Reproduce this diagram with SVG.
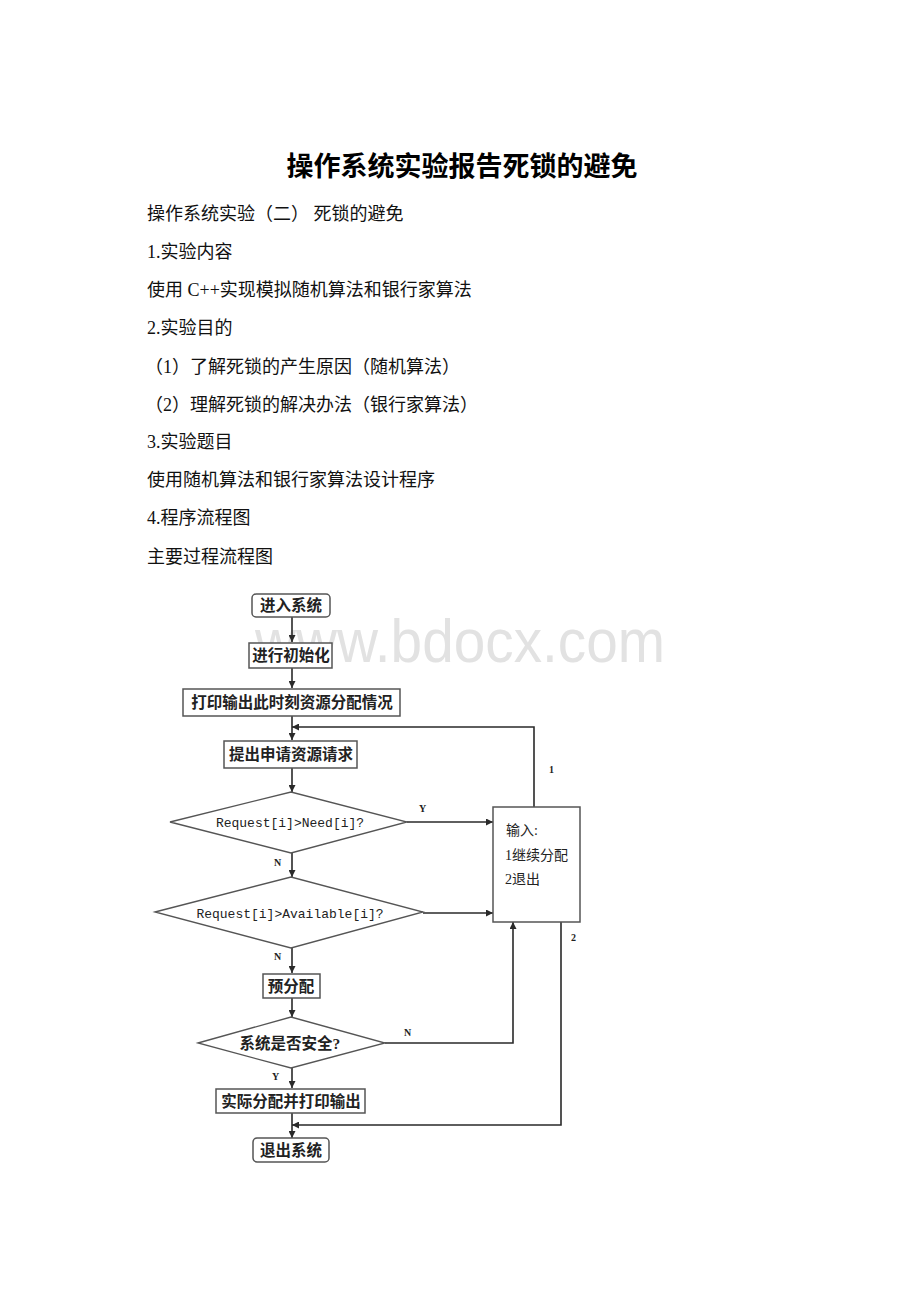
<svg xmlns="http://www.w3.org/2000/svg" width="920" height="1302" viewBox="0 0 920 1302">
<style>
.body{font-family:"Liberation Serif","Noto Sans CJK SC",serif;font-size:18px;fill:#111}
.title{font-family:"Liberation Serif","Noto Sans CJK SC",serif;font-size:27px;font-weight:bold;fill:#000}
.box{fill:#fff;stroke:#555;stroke-width:1.5}
.dia{fill:#fff;stroke:#555;stroke-width:1.3}
.lbl{font-family:"Liberation Serif","Noto Sans CJK SC",serif;font-size:15.5px;font-weight:600;fill:#222;text-anchor:middle}
.mono{font-family:"Liberation Mono","Noto Sans CJK SC",monospace;font-size:13px;fill:#222;text-anchor:middle}
.small{font-family:"Liberation Serif","Noto Sans CJK SC",serif;font-size:14px;fill:#222}
.yn{font-family:"Liberation Serif",serif;font-size:10px;font-weight:bold;fill:#222}
.conn path{fill:none;stroke:#2a2a2a;stroke-width:1.6}
</style>
<defs>
<marker id="arr" viewBox="0 0 10 10" refX="10" refY="5" markerWidth="7" markerHeight="7" orient="auto" markerUnits="userSpaceOnUse">
<path d="M0,0 L10,5 L0,10 z" fill="#2a2a2a"/>
</marker>
</defs>
<rect width="920" height="1302" fill="#fff"/>
<text class="title" x="462" y="176" text-anchor="middle">操作系统实验报告死锁的避免</text>
<g id="body-text">
<text class="body" x="147" y="220">操作系统实验（二） 死锁的避免</text>
<text class="body" x="147" y="258">1.实验内容</text>
<text class="body" x="147" y="296">使用 C++实现模拟随机算法和银行家算法</text>
<text class="body" x="147" y="334">2.实验目的</text>
<text class="body" x="145" y="373">（1）了解死锁的产生原因（随机算法）</text>
<text class="body" x="145" y="411">（2）理解死锁的解决办法（银行家算法）</text>
<text class="body" x="147" y="448">3.实验题目</text>
<text class="body" x="147" y="486">使用随机算法和银行家算法设计程序</text>
<text class="body" x="147" y="524">4.程序流程图</text>
<text class="body" x="147" y="563">主要过程流程图</text>
</g>
<text x="460" y="662" text-anchor="middle" font-family="Liberation Sans, sans-serif" font-size="62" fill="#e2e2e2" textLength="410" lengthAdjust="spacingAndGlyphs">www.bdocx.com</text>
<g class="conn" id="connectors">
<path d="M292,617 L292,642" marker-end="url(#arr)"/>
<path d="M292,668 L292,688" marker-end="url(#arr)"/>
<path d="M292,716 L292,740" marker-end="url(#arr)"/>
<path d="M534,807 L534,727 L292,727" marker-end="url(#arr)"/>
<path d="M292,768 L292,792" marker-end="url(#arr)"/>
<path d="M407,822 L493,822" marker-end="url(#arr)"/>
<path d="M292,853 L292,877" marker-end="url(#arr)"/>
<path d="M423,913 L493,913" marker-end="url(#arr)"/>
<path d="M292,948 L292,973" marker-end="url(#arr)"/>
<path d="M292,998 L292,1017" marker-end="url(#arr)"/>
<path d="M385,1043 L513,1043 L513,922" marker-end="url(#arr)"/>
<path d="M292,1068 L292,1088" marker-end="url(#arr)"/>
<path d="M292,1113 L292,1138" marker-end="url(#arr)"/>
<path d="M561,922 L561,1125 L292,1125" marker-end="url(#arr)"/>
<text class="yn" x="419" y="812">Y</text>
<text class="yn" x="274" y="866">N</text>
<text class="yn" x="274" y="960">N</text>
<text class="yn" x="404" y="1036">N</text>
<text class="yn" x="272" y="1080">Y</text>
<text class="yn" x="549" y="773" font-weight="normal">1</text>
<text class="yn" x="571" y="941" font-weight="normal">2</text>
</g>
<g id="n-enter"><rect class="box" x="252" y="594" width="78" height="23" rx="4"/><text class="lbl" x="291" y="611">进入系统</text></g>
<g id="n-init"><rect class="box" x="249" y="643" width="83" height="25"/><text class="lbl" x="291" y="661">进行初始化</text></g>
<g id="n-print"><rect class="box" x="183" y="689" width="217" height="27"/><text class="lbl" x="292" y="708">打印输出此时刻资源分配情况</text></g>
<g id="n-request"><rect class="box" x="224" y="741" width="133" height="27"/><text class="lbl" x="291" y="760">提出申请资源请求</text></g>
<g id="n-need"><polygon class="dia" points="170,822 291,792 407,822 291,853"/><text class="mono" x="290" y="827">Request[i]&gt;Need[i]?</text></g>
<g id="n-avail"><polygon class="dia" points="155,912 291,877 423,912 291,948"/><text class="mono" x="290" y="918">Request[i]&gt;Available[i]?</text></g>
<g id="n-input"><rect class="box" x="493" y="807" width="87" height="115"/>
<text class="small" x="506" y="835">输入:</text>
<text class="small" x="505" y="860">1继续分配</text>
<text class="small" x="505" y="884">2退出</text></g>
<g id="n-pre"><rect class="box" x="263" y="974" width="57" height="24"/><text class="lbl" x="291" y="992">预分配</text></g>
<g id="n-safe"><polygon class="dia" points="198,1043 291,1017 385,1043 291,1068"/><text class="lbl" x="290" y="1049" font-size="15">系统是否安全?</text></g>
<g id="n-alloc"><rect class="box" x="216" y="1089" width="149" height="24"/><text class="lbl" x="291" y="1107">实际分配并打印输出</text></g>
<g id="n-exit"><rect class="box" x="253" y="1138" width="76" height="24" rx="4"/><text class="lbl" x="291" y="1156">退出系统</text></g>
</svg>
